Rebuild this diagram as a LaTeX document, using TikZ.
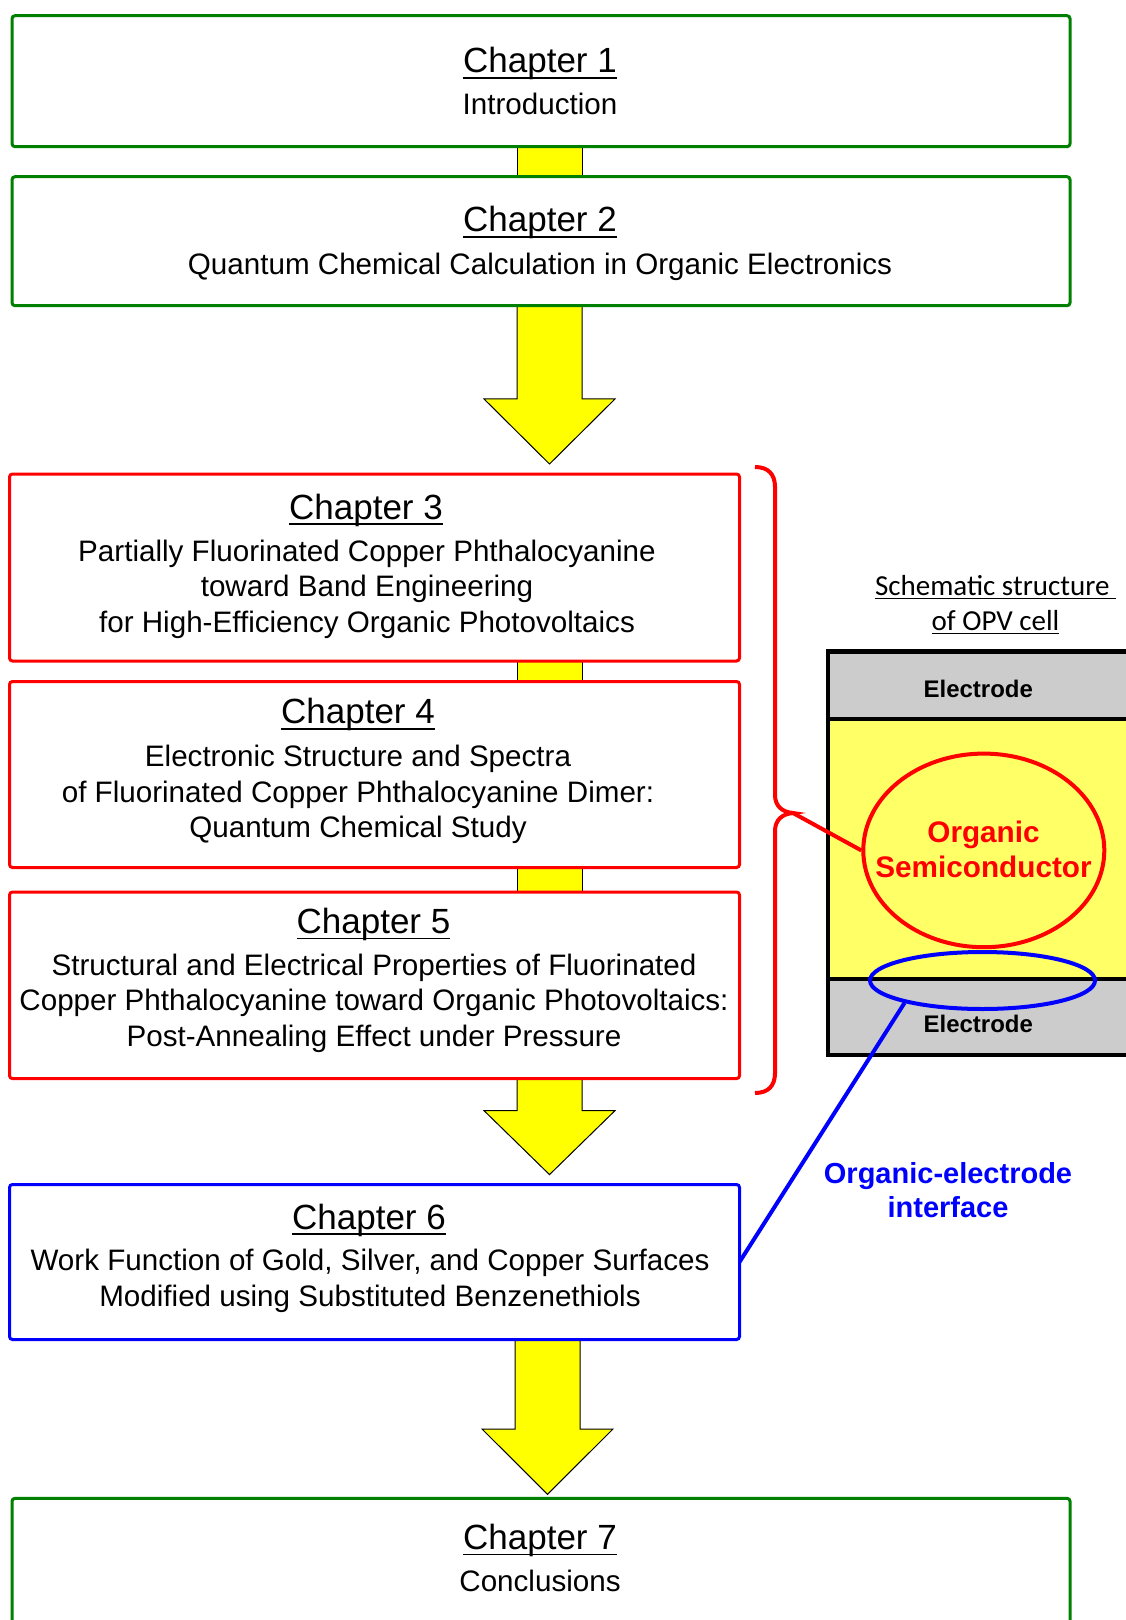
\documentclass[tikz,border=0pt]{standalone}
\usepackage{fontspec}
\setmainfont{Liberation Sans}
\newfontfamily\calfont{Carlito}
\usetikzlibrary{shapes.geometric}
\definecolor{boxgreen}{RGB}{0,128,0}
\definecolor{lightyel}{RGB}{255,255,102}
\definecolor{elgray}{RGB}{204,204,204}
\definecolor{arryel}{RGB}{255,255,0}
\newsavebox\ulbox
\newcommand\myul[2][2.9pt]{\sbox\ulbox{#2}\rlap{\rule[-#1]{\wd\ulbox}{0.7pt}}\usebox\ulbox}
\newcommand\lines[1]{\vtop{\halign{\hfil##\hfil\cr#1\crcr}}}
\begin{document}
\begin{tikzpicture}[x=0.5pt,y=-0.5pt,
  chbox/.style={draw, line width=1.5pt, fill=white, rounded corners=1.5pt, inner sep=0pt, outer sep=0pt, anchor=north west},
  gbox/.style={chbox, draw=boxgreen},
  rbox/.style={chbox, draw=red},
  bbox/.style={chbox, draw=blue},
  ttl/.style={anchor=base, inner sep=0pt, font=\fontsize{17.5}{20}\selectfont},
  bdy/.style={anchor=base, inner sep=0pt, font=\fontsize{14.8}{17.8}\selectfont},
  yarrow/.style={fill=arryel, draw=black, line width=0.5pt, line join=miter},
  lbl/.style={anchor=base, inner sep=0pt, font=\bfseries\fontsize{14.5}{17}\selectfont},
]
\useasboundingbox (0,0) rectangle (1125,1620);

% yellow connectors and arrows (behind boxes)
\draw[yarrow] (517,140) rectangle (582,182);
\draw[yarrow] (517,655) rectangle (582,688);
\draw[yarrow] (517,862) rectangle (582,898);
\draw[yarrow] (517,300) -- (517,399) -- (484,399) -- (549.5,464) -- (615,399) -- (582,399) -- (582,300) -- cycle;
\draw[yarrow] (517,1072) -- (517,1110.6) -- (484,1110.6) -- (549.5,1174.6) -- (615,1110.6) -- (582,1110.6) -- (582,1072) -- cycle;
\draw[yarrow] (515,1335) -- (515,1429) -- (482,1429) -- (547.5,1494.3) -- (613,1429) -- (580,1429) -- (580,1335) -- cycle;

% chapter boxes
\node[gbox, minimum width=529pt, minimum height=65.5pt] (b1) at (12,15.7) {};
\node[gbox, minimum width=529pt, minimum height=64.5pt] (b2) at (12,176.7) {};
\node[rbox, minimum width=365pt, minimum height=93.5pt] (b3) at (9.5,474) {};
\node[rbox, minimum width=365pt, minimum height=93pt] (b4) at (9.5,681.5) {};
\node[rbox, minimum width=365pt, minimum height=93.3pt] (b5) at (9.5,892) {};
\node[bbox, minimum width=365pt, minimum height=77.5pt] (b6) at (9.5,1184.5) {};
\node[gbox, minimum width=529pt, minimum height=95pt] (b7) at (12,1498.3) {};

% chapter texts
\node[ttl] (t1) at (540,73) {\myul{Chapter 1}};
\node[bdy] (d1) at (540,115) {Introduction};
\node[ttl] (t2) at (540,232) {\myul{Chapter 2}};
\node[bdy] (d2) at (540,274.3) {Quantum Chemical Calculation in Organic Electronics};
\node[ttl] (t3) at (366,519) {\myul{Chapter 3}};
\node[bdy] (d3) at (367,561) {\lines{Partially Fluorinated Copper Phthalocyanine\cr toward Band Engineering\cr for High-Efficiency Organic Photovoltaics}};
\node[ttl] (t4) at (358,723.8) {\myul{Chapter 4}};
\node[bdy] (d4) at (358,766.6) {\lines{Electronic Structure and Spectra\cr of Fluorinated Copper Phthalocyanine Dimer:\cr Quantum Chemical Study}};
\node[ttl] (t5) at (373.5,933.5) {\myul{Chapter 5}};
\node[bdy] (d5) at (374,975.3) {\lines{Structural and Electrical Properties of Fluorinated\cr Copper Phthalocyanine toward Organic Photovoltaics:\cr Post-Annealing Effect under Pressure}};
\node[ttl] (t6) at (369,1229) {\myul{Chapter 6}};
\node[bdy] (d6) at (370,1270.8) {\lines{Work Function of Gold, Silver, and Copper Surfaces\cr Modified using Substituted Benzenethiols}};
\node[ttl] (t7) at (540,1549.5) {\myul{Chapter 7}};
\node[bdy] (d7) at (540,1591.7) {Conclusions};

% OPV cell
\fill[elgray] (828,651.5) rectangle (1140,719);
\fill[lightyel] (828,719) rectangle (1140,979);
\fill[elgray] (828,979) rectangle (1140,1055);
\draw[line width=2.2pt] (1140,651.5) -- (828,651.5) -- (828,1055) -- (1140,1055);
\draw[line width=2.2pt] (828,719) -- (1140,719);
\draw[line width=2.2pt] (828,979) -- (1140,979);
\node[anchor=base, inner sep=0pt, font=\bfseries\fontsize{12}{14}\selectfont] (e1) at (978.3,697.6) {Electrode};
\node[anchor=base, inner sep=0pt, font=\bfseries\fontsize{12}{14}\selectfont] (e2) at (978.3,1032) {Electrode};
\node[anchor=base, inner sep=0pt, font=\calfont\fontsize{14.5}{17.5}\selectfont] (sch) at (995.5,595) {\lines{\myul[2.2pt]{Schematic structure }\cr\myul[2.2pt]{of OPV cell}}};

\node[draw=red, line width=2pt, ellipse, minimum width=120.5pt, minimum height=96.8pt, inner sep=0pt] (os) at (983.8,850.4) {};
\node[lbl, text=red, font=\bfseries\fontsize{14.85}{17.8}\selectfont] (osl) at (983.5,842) {\lines{Organic\cr Semiconductor}};
\node[draw=blue, line width=2pt, ellipse, minimum width=112.5pt, minimum height=28.5pt, inner sep=0pt] (oe) at (982.5,980.5) {};

% bracket
\coordinate (cusp) at (793,813);
\draw[red, line width=2pt] (755,467) .. controls (768,467) and (775,474) .. (775,487) -- (775,795) .. controls (775,806) and (782,812) .. (cusp) .. controls (782,814) and (775,820) .. (775,831) -- (775,1073) .. controls (775,1086) and (768,1093) .. (755,1093);
\draw[red, line width=2pt] (cusp) -- (os.west);

% interface connector
\draw[blue, line width=2pt] (oe.196) -- (b6.east);
\node[lbl, text=blue] (oel) at (948,1183) {\lines{Organic-electrode\cr interface}};
\end{tikzpicture}
\end{document}
